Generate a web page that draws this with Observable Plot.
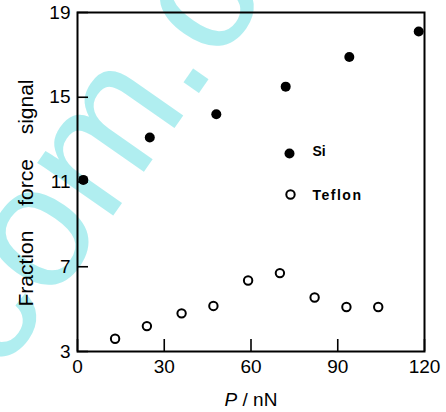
<!DOCTYPE html>
<html>
<head>
<meta charset="utf-8">
<script src="https://cdn.jsdelivr.net/npm/d3@7"></script>
<script src="https://cdn.jsdelivr.net/npm/@observablehq/plot@0.6"></script>
<style>
  html, body { margin: 0; padding: 0; background: #fff; }
  #wrap { position: relative; width: 446px; height: 412px; overflow: hidden; }
  #wm { position: absolute; left: 0; top: 0; font-family: "Liberation Sans", Arial, sans-serif;
        font-size: 175px; color: #b0eef0; white-space: nowrap; transform-origin: 0 0;
        transform: translate(-121px, 292px) rotate(-55deg); line-height: 1; }
  #chart { position: absolute; left: 0; top: 0; }
  #chart svg { background: transparent !important; }
</style>
</head>
<body>
<div id="wrap">
  <div id="wm">com.c</div>
  <div id="chart"></div>
</div>
<script>
// Data
const siLoad = [2, 25, 48, 72, 94, 118];
const siSignal = [11.1, 13.1, 14.2, 15.5, 16.9, 18.1];
const teflonLoad = [13, 24, 36, 47, 59, 70, 82, 93, 104];
const teflonSignal = [3.6, 4.2, 4.8, 5.15, 6.35, 6.7, 5.55, 5.1, 5.1];
const xTicks = [0, 30, 60, 90, 120];
const yTicks = [3, 7, 11, 15, 19];
const seriesNames = ["Si", "Teflon"];
const xLabel = "P / nN";
const yLabel = "Fraction force signal";

const si = siLoad.map((p, i) => ({p, f: siSignal[i]}));
const teflon = teflonLoad.map((p, i) => ({p, f: teflonSignal[i]}));

const font = "Liberation Sans, Arial, sans-serif";

const chart = Plot.plot({
  width: 446,
  height: 412,
  marginLeft: 77,
  marginRight: 22,
  marginTop: 12,
  marginBottom: 61,
  style: {fontFamily: font, background: "transparent", color: "#000"},
  x: {domain: [0, 120]},
  y: {domain: [3, 19]},
  marks: [
    Plot.frame({stroke: "#000", strokeWidth: 2}),
    Plot.axisX({ticks: xTicks, tickSize: -12, tickPadding: 20, fontSize: 19, strokeWidth: 1.6, label: null}),
    Plot.axisY({ticks: yTicks, tickSize: -11, tickPadding: 18, fontSize: 19, strokeWidth: 1.6, label: null}),
    Plot.dot(si, {x: "p", y: "f", r: 5, fill: "#000", stroke: "none"}),
    Plot.dot(teflon, {x: "p", y: "f", r: 4.2, fill: "none", stroke: "#000", strokeWidth: 2}),
    // legend
    Plot.dot([seriesNames[0]], {frameAnchor: "top-left", dx: 212, dy: 141, r: 5, fill: "#000", stroke: "none"}),
    Plot.dot([seriesNames[1]], {frameAnchor: "top-left", dx: 213, dy: 182, r: 4.2, fill: "none", stroke: "#000", strokeWidth: 2}),
    Plot.text([seriesNames[0]], {text: d => d, frameAnchor: "top-left", dx: 235, dy: 139, textAnchor: "start", lineAnchor: "middle", fontSize: 14, fontWeight: "bold", className: "leg"}),
    Plot.text([seriesNames[1]], {text: d => d, frameAnchor: "top-left", dx: 235, dy: 183, textAnchor: "start", lineAnchor: "middle", fontSize: 14, fontWeight: "bold", className: "leg legT"}),
    // axis titles
    Plot.text([yLabel], {text: d => d, frameAnchor: "left", dx: -51, dy: 11, rotate: -90, textAnchor: "middle", lineAnchor: "middle", fontSize: 21, className: "ylab"}),
    Plot.text([xLabel], {text: d => d, frameAnchor: "bottom", dy: 48, textAnchor: "middle", lineAnchor: "middle", fontSize: 19, className: "xlab"})
  ]
});
document.getElementById("chart").append(chart);

const svg = d3.select(chart);
svg.selectAll(".ylab text").style("word-spacing", "19px");
svg.selectAll(".legT text").style("letter-spacing", "1.5px");
svg.selectAll(".xlab text").each(function() {
  const t = d3.select(this);
  const s = t.text();
  t.text(null);
  t.append("tspan").attr("font-style", "italic").text(s.slice(0, 1));
  t.append("tspan").text(s.slice(1));
});
</script>
</body>
</html>
